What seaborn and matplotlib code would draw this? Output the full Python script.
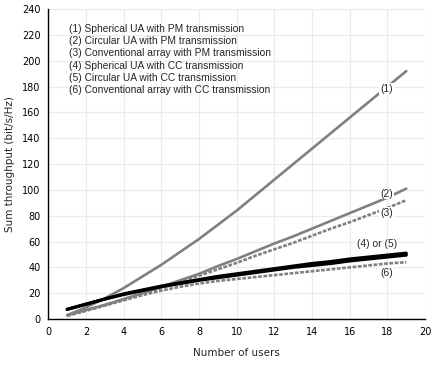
import numpy as np
import pandas as pd
import matplotlib
matplotlib.use("Agg")
import matplotlib.pyplot as plt
import seaborn as sns

users = list(range(1, 20))

spherical_pm = [3, 9, 16, 24, 33, 42, 52, 62, 73, 84, 96, 108, 120, 132, 144, 156, 168, 180, 192]
circular_pm = [3, 7, 11, 15.5, 20, 25, 30, 35, 41, 46.5, 52.5, 58.5, 64, 70, 76, 82, 88, 94, 101]
conventional_pm = [2.5, 6.5, 10.5, 15, 19.5, 24, 29, 33.5, 38.5, 43.5, 49, 54, 59, 64.5, 70, 75, 80.5, 86, 92]
spherical_cc = [7.5, 11.5, 15.5, 19.5, 22.5, 25.5, 28, 30.5, 33, 35, 37, 39, 41, 43, 44.5, 46.5, 48, 49.5, 51]
circular_cc = [7.5, 11.5, 15.5, 19, 22, 25, 27.5, 30, 32, 34, 36, 38, 40, 41.5, 43, 45, 46.5, 48, 49.5]
conventional_cc = [2.5, 6.5, 10.5, 14.5, 18.5, 22, 25, 27.5, 29.5, 31, 32.5, 34, 35.5, 37, 38.5, 40, 41.5, 43, 44]

legend_lines = [
    "(1) Spherical UA with PM transmission",
    "(2) Circular UA with PM transmission",
    "(3) Conventional array with PM transmission",
    "(4) Spherical UA with CC transmission",
    "(5) Circular UA with CC transmission",
    "(6) Conventional array with CC transmission",
]

sns.set_style("white")
plt.rcParams["font.family"] = ["DejaVu Sans"]

fig = plt.figure(figsize=(4.36, 3.65), dpi=100)
ax = fig.add_axes([0.111, 0.126, 0.864, 0.849])

gray = "#808080"
dash = (0, (1.4, 0.6))
styles = [
    (spherical_pm, gray, "-", 1.9),
    (circular_pm, gray, "-", 1.9),
    (conventional_pm, gray, dash, 1.9),
    (spherical_cc, "black", "-", 2.3),
    (circular_cc, "black", "-", 2.3),
    (conventional_cc, gray, dash, 1.9),
]
for vals, color, ls, lw in styles:
    df = pd.DataFrame({"users": users, "throughput": vals})
    sns.lineplot(data=df, x="users", y="throughput", color=color, linestyle=ls,
                 linewidth=lw, ax=ax, zorder=3)

ax.set_xlim(0, 20)
ax.set_ylim(0, 240)
ax.set_xticks(np.arange(0, 21, 2))
ax.set_yticks(np.arange(0, 241, 20))
ax.grid(True, color="#ebebeb", linewidth=0.8)
ax.set_axisbelow(True)
for s in ["top", "right"]:
    ax.spines[s].set_visible(False)
for s in ["left", "bottom"]:
    ax.spines[s].set_color("black")
    ax.spines[s].set_linewidth(1.0)
ax.tick_params(axis="both", direction="inout", length=4, width=0.8, labelsize=7, colors="black")

ax.set_xlabel("Number of users", fontsize=7.5, labelpad=8)
ax.set_ylabel("Sum throughput (bit/s/Hz)", fontsize=7.5, labelpad=5)

lbl_font = ["Liberation Sans", "DejaVu Sans"]
for i, line in enumerate(legend_lines):
    ax.text(1.1, 224.5 - i * 9.4, line, fontsize=7.4, family=lbl_font, va="center", ha="left")

box = dict(facecolor="white", edgecolor="none", pad=0.5)
ax.text(17.95, 178, "(1)", fontsize=7.4, family=lbl_font, ha="center", va="center", bbox=box, zorder=5)
ax.text(17.95, 97, "(2)", fontsize=7.4, family=lbl_font, ha="center", va="center", bbox=box, zorder=5)
ax.text(17.95, 82, "(3)", fontsize=7.4, family=lbl_font, ha="center", va="center", bbox=box, zorder=5)
ax.text(17.45, 58, "(4) or (5)", fontsize=7.4, family=lbl_font, ha="center", va="center", bbox=box, zorder=5)
ax.text(17.95, 35.5, "(6)", fontsize=7.4, family=lbl_font, ha="center", va="center", bbox=box, zorder=5)

fig.savefig("out.png", dpi=100)
